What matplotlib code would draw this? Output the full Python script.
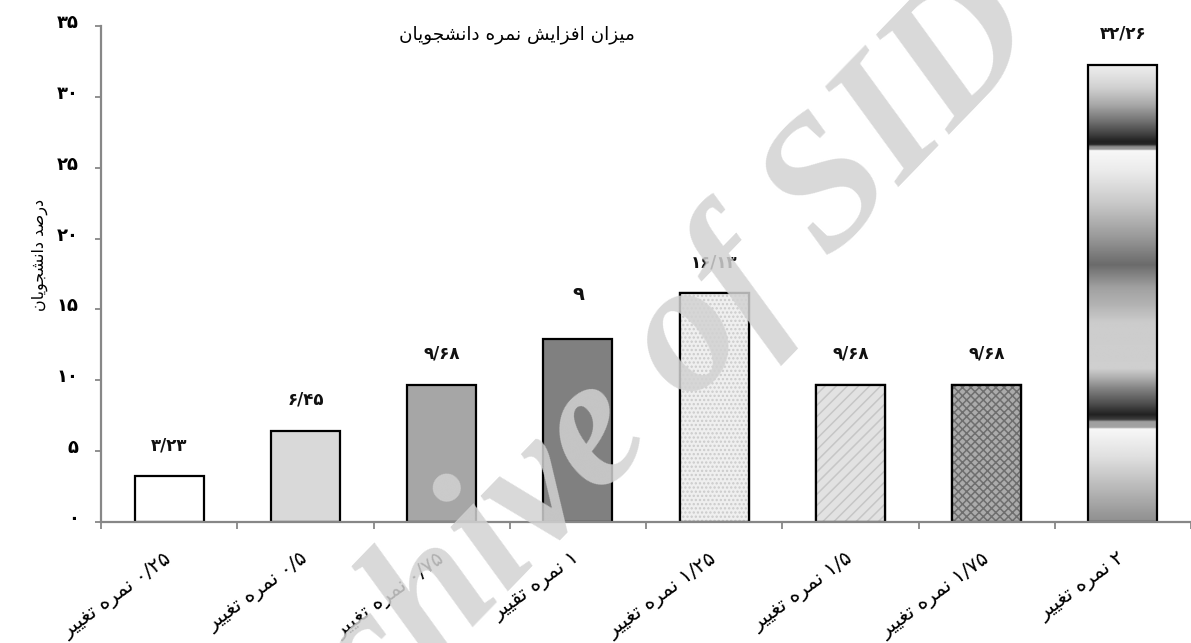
import numpy as np
import matplotlib
matplotlib.use("Agg")
import matplotlib.pyplot as plt
import matplotlib.transforms as mtrans

# ---------------- data ----------------
categories = ["۰/۲۵ نمره تغییر", "۰/۵ نمره تغییر", "۰/۷۵ نمره تغییر", "۱ نمره تقییر",
              "۱/۲۵ نمره تغییر", "۱/۵ نمره تغییر", "۱/۷۵ نمره تغییر", "۲ نمره تغییر"]
values = [3.23, 6.45, 9.68, 12.9, 16.13, 9.68, 9.68, 32.26]
value_labels = ["۳/۲۳", "۶/۴۵", "۹/۶۸", "۹", "۱۶/۱۳", "۹/۶۸", "۹/۶۸", "۳۲/۲۶"]
yticks = [0, 5, 10, 15, 20, 25, 30, 35]
ytick_labels = ["۰", "۵", "۱۰", "۱۵", "۲۰", "۲۵", "۳۰", "۳۵"]
title = "میزان افزایش نمره دانشجویان"
ylabel = "درصد دانشجویان"
watermark = "Archive of SID"

# ---------------- minimal Persian shaping (visual order) ----------------
# (isolated, final, initial, medial)
FORMS = {
    "ا": ("\uFE8D", "\uFE8E", None, None),
    "ت": ("\uFE95", "\uFE96", "\uFE97", "\uFE98"),
    "ج": ("\uFE9D", "\uFE9E", "\uFE9F", "\uFEA0"),
    "د": ("\uFEA9", "\uFEAA", None, None),
    "ر": ("\uFEAD", "\uFEAE", None, None),
    "ز": ("\uFEAF", "\uFEB0", None, None),
    "ش": ("\uFEB5", "\uFEB6", "\uFEB7", "\uFEB8"),
    "ص": ("\uFEB9", "\uFEBA", "\uFEBB", "\uFEBC"),
    "غ": ("\uFECD", "\uFECE", "\uFECF", "\uFED0"),
    "ف": ("\uFED1", "\uFED2", "\uFED3", "\uFED4"),
    "ق": ("\uFED5", "\uFED6", "\uFED7", "\uFED8"),
    "م": ("\uFEE1", "\uFEE2", "\uFEE3", "\uFEE4"),
    "ن": ("\uFEE5", "\uFEE6", "\uFEE7", "\uFEE8"),
    "ه": ("\uFEE9", "\uFEEA", "\uFEEB", "\uFEEC"),
    "و": ("\uFEED", "\uFEEE", None, None),
    "ی": ("\uFEEF", "\uFEF0", "\uFEF3", "\uFEF4"),
}


def dual(ch):
    return ch in FORMS and FORMS[ch][2] is not None


def shape(text):
    chars = list(text)
    out = []
    for i, ch in enumerate(chars):
        if ch not in FORMS:
            out.append(ch)
            continue
        prev = chars[i - 1] if i > 0 else None
        nxt = chars[i + 1] if i + 1 < len(chars) else None
        jp = prev is not None and dual(prev)
        jn = dual(ch) and nxt is not None and nxt in FORMS
        iso, fin, ini, med = FORMS[ch]
        if jp and jn:
            out.append(med)
        elif jp:
            out.append(fin)
        elif jn:
            out.append(ini)
        else:
            out.append(iso)
    # visual order: reverse, but keep digit runs left-to-right
    tokens = []
    digits = set("۰۱۲۳۴۵۶۷۸۹0123456789/.")
    buf = ""
    for ch in out:
        if ch in digits:
            buf += ch
        else:
            if buf:
                tokens.append(buf)
                buf = ""
            tokens.append(ch)
    if buf:
        tokens.append(buf)
    return "".join(reversed(tokens))


plt.rcParams["font.family"] = ["DejaVu Sans"]

W, H = 1191, 643
fig = plt.figure(figsize=(W / 100, H / 100), dpi=100)
ax = fig.add_axes([101 / W, 1 - 522.3 / H, 1090 / W, (522.3 - 25.7) / H])

n = len(values)
x = np.arange(n)
bw = 0.506

faces = ["#ffffff", "#d9d9d9", "#a6a6a6", "#808080", "#efefef", "#e2e2e2", "#ababab", None]
hatches = [None, None, None, None, "....", "///", "xxxx", None]
hatch_cols = [None, None, None, None, "#cbcbcb", "#c6c6c6", "#6e6e6e", None]

plt.rcParams["hatch.linewidth"] = 1.1

bars = ax.bar(x, values, width=bw, color="white", edgecolor="black", linewidth=1.6, zorder=3)
for i, b in enumerate(bars):
    if faces[i] is not None:
        b.set_facecolor(faces[i])
    if hatches[i] is not None:
        ax.bar(x[i], values[i], width=bw, color=faces[i], edgecolor=hatch_cols[i],
               linewidth=0, hatch=hatches[i], zorder=3.5)
        ax.bar(x[i], values[i], width=bw, fill=False, edgecolor="black", linewidth=1.6, zorder=4)

# gradient fill for last bar
stops_f = [0.000, 0.050, 0.088, 0.125, 0.153, 0.168, 0.175, 0.180, 0.186, 0.188, 0.234, 0.306,
           0.378, 0.438, 0.488, 0.525, 0.565, 0.665, 0.683, 0.711, 0.740, 0.766, 0.777, 0.781,
           0.794, 0.797, 0.856, 0.928, 1.000]
stops_g = [0.94, 0.82, 0.66, 0.44, 0.25, 0.13, 0.15, 0.55, 0.60, 0.97, 0.92, 0.78,
           0.60, 0.42, 0.63, 0.70, 0.80, 0.81, 0.70, 0.50, 0.32, 0.13, 0.25, 0.62,
           0.64, 0.97, 0.88, 0.72, 0.56]
rows = np.linspace(0, 1, 600)
grad = np.interp(rows, stops_f, stops_g)[:, None]
lb = bars[-1]
x0 = lb.get_x()
im = ax.imshow(np.repeat(grad, 2, axis=1), cmap="gray", vmin=0, vmax=1, aspect="auto",
               extent=[x0, x0 + bw, 0, values[-1]], origin="upper", zorder=3.2,
               interpolation="bilinear")
im.set_clip_path(lb)
lb.set_facecolor("none")
lb.set_zorder(4)

ax.set_xlim(-0.5, n - 0.5)
ax.set_ylim(0, 35)

# value labels
for i, (v, lab) in enumerate(zip(values, value_labels)):
    big = lab == "۹"
    ax.annotate(lab, (x[i], v), xytext=(0, 32 if big else 22.5), textcoords="offset points",
                ha="center", va="center", fontsize=14 if big else 12, fontweight="bold",
                color="#111111", zorder=6)

# axes styling
for s in ["top", "right"]:
    ax.spines[s].set_visible(False)
for s in ["left", "bottom"]:
    ax.spines[s].set_color("#878787")
    ax.spines[s].set_linewidth(1.6)
    ax.spines[s].set_zorder(5)

ax.set_yticks(yticks)
ax.set_yticklabels(ytick_labels, fontsize=13, fontweight="bold", va="center")
ax.tick_params(axis="y", length=4, width=1.3, color="#878787", pad=12)
yshift = mtrans.ScaledTranslation(0, 3 / 100, fig.dpi_scale_trans)
for t in ax.get_yticklabels():
    t.set_transform(t.get_transform() + yshift)

ax.set_xticks(x)
ax.set_xticklabels([shape(c) for c in categories], fontsize=14.5, rotation=36,
                   ha="right", va="top", rotation_mode="anchor")
ax.tick_params(axis="x", which="major", length=0, pad=19)
ax.set_xticks(np.arange(n + 1) - 0.5, minor=True)
ax.tick_params(axis="x", which="minor", length=5, width=1.3, color="#878787", direction="out")
shift = mtrans.ScaledTranslation(-5 / 100, 0, fig.dpi_scale_trans)
for t in ax.get_xticklabels():
    t.set_transform(t.get_transform() + shift)

fig.text(517 / W, 1 - 35 / H, shape(title), ha="center", va="center", fontsize=13.2)
fig.text(40 / W, 1 - 255 / H, shape(ylabel), ha="center", va="center", fontsize=11.5, rotation=90)

fig.text(612 / W, 1 - 428 / H, watermark, ha="center", va="center", rotation=46,
         fontsize=134, family="Liberation Serif", style="italic", fontweight="bold",
         color="#d2d2d2", alpha=0.85, zorder=100)

fig.savefig("out.png", dpi=100)
